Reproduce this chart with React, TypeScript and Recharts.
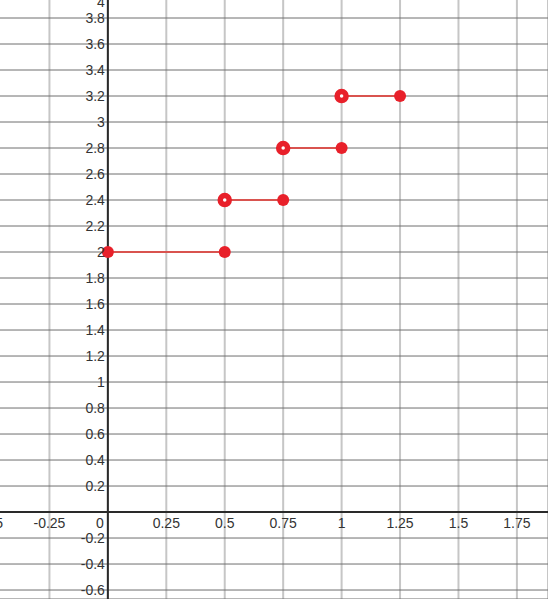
import React from "react";
import {
  ComposedChart,
  Line,
  Scatter,
  XAxis,
  YAxis,
  CartesianGrid,
  ReferenceLine,
} from "recharts";

// Step function: segment i runs from stepX[i] to stepX[i+1] at value stepY[i]
const stepX = [0, 0.5, 0.75, 1, 1.25];
const stepY = [2, 2.4, 2.8, 3.2];

// Closed (filled) endpoints
const filledX = [0, 0.5, 0.75, 1, 1.25];
const filledY = [2, 2, 2.4, 2.8, 3.2];

// Open endpoints
const openX = [0.5, 0.75, 1];
const openY = [2.4, 2.8, 3.2];

// Axis ticks
const xTicks = [-0.5, -0.25, 0, 0.25, 0.5, 0.75, 1, 1.25, 1.5, 1.75];
const yTicks = [
  -0.6, -0.4, -0.2, 0, 0.2, 0.4, 0.6, 0.8, 1, 1.2, 1.4, 1.6, 1.8, 2, 2.2, 2.4,
  2.6, 2.8, 3, 3.2, 3.4, 3.6, 3.8, 4,
];

const W = 548;
const H = 599;
const X_DOMAIN: [number, number] = [-0.5, 1.883];
const Y_DOMAIN: [number, number] = [-0.669, 4];
const AX_W = 1;
const AX_H = 1;
const MARGIN = { top: -8, right: 0, bottom: -AX_H, left: -9 - AX_W };

const plotLeft = MARGIN.left + AX_W;
const plotTop = MARGIN.top;
const plotW = W - plotLeft - MARGIN.right;
const plotH = H - plotTop - MARGIN.bottom - AX_H;
const xPix = (v: number) =>
  plotLeft + ((v - X_DOMAIN[0]) / (X_DOMAIN[1] - X_DOMAIN[0])) * plotW;
const yPix = (v: number) =>
  plotTop + ((Y_DOMAIN[1] - v) / (Y_DOMAIN[1] - Y_DOMAIN[0])) * plotH;

const FONT = "'Liberation Sans', Arial, sans-serif";
const TEXT_COLOR = "#333";

const segments = stepY.map((y, i) => [
  { x: stepX[i], y },
  { x: stepX[i + 1], y },
]);
const filledPts = filledX.map((x, i) => ({ x, y: filledY[i] }));
const openPts = openX.map((x, i) => ({ x, y: openY[i] }));

const fmt = (v: number) => String(Math.round(v * 100) / 100);

const renderXTick = (props: any) => {
  const { x, payload } = props;
  const v = payload.value;
  const y0 = yPix(0);
  const dx = v === 0 ? -8 : 0;
  return (
    <text
      key={`xt-${v}`}
      x={x + dx}
      y={y0 + 16}
      textAnchor="middle"
      fontSize={14}
      fontFamily={FONT}
      fill={TEXT_COLOR}
    >
      {fmt(v)}
    </text>
  );
};

const renderYTick = (props: any) => {
  const { y, payload } = props;
  const v = payload.value;
  if (v === 0) return <g key="yt-0" />;
  const x0 = xPix(0);
  const ty = Math.max(y + 5, 7);
  return (
    <text
      key={`yt-${v}`}
      x={x0 - 3}
      y={ty}
      textAnchor="end"
      fontSize={14}
      fontFamily={FONT}
      fill={TEXT_COLOR}
    >
      {fmt(v)}
    </text>
  );
};

const FilledDot = (props: any) => {
  const { cx, cy } = props;
  if (cx == null || cy == null) return null;
  return <circle cx={cx} cy={cy} r={6} fill="#e8202a" stroke="none" />;
};

const OpenDot = (props: any) => {
  const { cx, cy } = props;
  if (cx == null || cy == null) return null;
  return (
    <circle cx={cx} cy={cy} r={4.5} fill="#ffffff" stroke="#e8202a" strokeWidth={5.5} />
  );
};

export default function App() {
  return (
    <div style={{ position: "absolute", left: 0, top: 0, width: W, height: H, background: "#fff" }}>
      <ComposedChart width={W} height={H} margin={MARGIN}>
        <CartesianGrid horizontal={false} stroke="#c6c6c6" strokeWidth={2} />
        <CartesianGrid vertical={false} stroke="#6e6e6e" strokeWidth={1} />
        <XAxis
          type="number"
          dataKey="x"
          domain={X_DOMAIN}
          ticks={xTicks}
          allowDataOverflow
          height={AX_H}
          axisLine={false}
          tickLine={false}
          tick={renderXTick}
          interval={0}
        />
        <YAxis
          type="number"
          dataKey="y"
          domain={Y_DOMAIN}
          ticks={yTicks}
          allowDataOverflow
          width={AX_W}
          axisLine={false}
          tickLine={false}
          tick={renderYTick}
          interval={0}
        />
        <ReferenceLine x={0} stroke="#2a2a2a" strokeWidth={2} />
        <ReferenceLine y={0} stroke="#2a2a2a" strokeWidth={2} />
        {segments.map((seg, i) => (
          <Line
            key={i}
            data={seg}
            dataKey="y"
            type="linear"
            stroke="#d9534f"
            strokeWidth={2}
            dot={false}
            activeDot={false}
            isAnimationActive={false}
          />
        ))}
        <Scatter data={filledPts} dataKey="y" shape={<FilledDot />} isAnimationActive={false} />
        <Scatter data={openPts} dataKey="y" shape={<OpenDot />} isAnimationActive={false} />
      </ComposedChart>
    </div>
  );
}
